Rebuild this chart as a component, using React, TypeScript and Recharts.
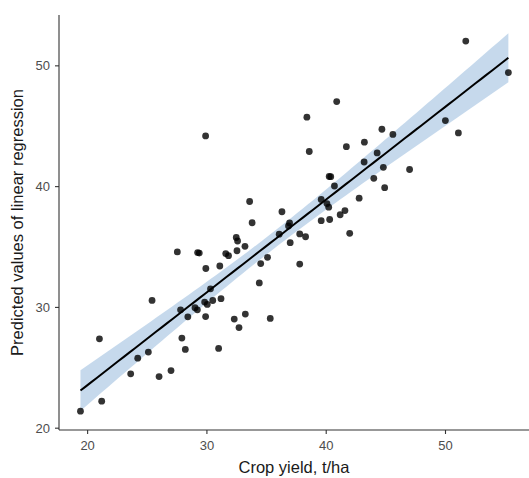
import { ComposedChart, Scatter, Area, Line, XAxis, YAxis, Label } from 'recharts';

// observed crop yield (t/ha) and the model's predicted values, one entry per plot
const cropYield = [
  19.40, 21.18, 20.99, 23.61, 24.20, 25.09, 25.40, 25.99, 26.99, 27.52,
  27.90, 28.19, 27.79, 28.40, 29.00, 29.20, 29.22, 29.36, 29.91, 29.89,
  29.81, 30.03, 30.30, 30.49, 31.18, 30.98, 31.08, 31.58, 31.81, 32.29,
  32.69, 33.22, 32.46, 32.57, 32.52, 33.19, 33.79, 34.51, 34.39, 35.08,
  35.31, 36.06, 33.58, 36.29, 36.93, 36.84, 36.98, 37.78, 38.27, 37.78,
  29.89, 38.38, 38.58, 40.88, 41.69, 43.20, 44.67, 45.59, 43.18, 44.27,
  44.79, 46.99, 43.99, 44.90, 40.25, 40.38, 40.69, 42.76, 39.58, 40.06,
  40.21, 41.57, 41.17, 40.29, 39.58, 41.97, 51.70, 55.27, 49.99, 51.08,
];
const predicted = [
  21.41, 22.24, 27.40, 24.50, 25.80, 26.30, 30.58, 24.27, 24.77, 34.59,
  27.46, 26.52, 29.80, 29.22, 29.97, 29.80, 34.54, 34.50, 33.22, 29.24,
  30.44, 30.25, 31.54, 30.57, 30.72, 26.60, 33.43, 34.46, 34.28, 29.03,
  28.33, 29.45, 35.79, 35.50, 34.69, 35.06, 37.01, 33.63, 32.03, 34.15,
  29.09, 36.06, 38.77, 37.92, 36.99, 36.74, 35.36, 36.08, 35.85, 33.59,
  44.20, 45.75, 42.91, 47.04, 43.31, 43.68, 44.75, 44.32, 42.04, 42.79,
  41.60, 41.42, 40.69, 39.91, 40.84, 40.82, 40.05, 39.04, 38.94, 38.60,
  38.30, 38.02, 37.67, 37.28, 37.18, 36.13, 52.05, 49.44, 45.47, 44.45,
];
const xTicks = [20, 30, 40, 50];
const yTicks = [20, 30, 40, 50];

// least-squares line with a 95% confidence band, evaluated like geom_smooth(method = "lm")
function lmFit(xs: number[], ys: number[], steps = 80) {
  const n = xs.length;
  const mx = xs.reduce((s, v) => s + v, 0) / n;
  const my = ys.reduce((s, v) => s + v, 0) / n;
  let sxx = 0;
  let sxy = 0;
  xs.forEach((x, i) => {
    sxx += (x - mx) ** 2;
    sxy += (x - mx) * (ys[i] - my);
  });
  const b = sxy / sxx;
  const a = my - b * mx;
  let sse = 0;
  xs.forEach((x, i) => {
    sse += (ys[i] - (a + b * x)) ** 2;
  });
  const s = Math.sqrt(sse / (n - 2));
  const t = 1.992;
  const lo = Math.min(...xs);
  const hi = Math.max(...xs);
  return Array.from({ length: steps }, (_, i) => {
    const x = lo + ((hi - lo) * i) / (steps - 1);
    const fit = a + b * x;
    const se = s * Math.sqrt(1 / n + (x - mx) ** 2 / sxx);
    return { x, fit, band: [fit - t * se, fit + t * se] };
  });
}

const points = cropYield.map((x, i) => ({ x, y: predicted[i] }));
const fitRows = lmFit(cropYield, predicted);

const axisStroke = { stroke: '#333', strokeWidth: 1.1 };
const tickStyle = { fill: '#4d4d4d', fontSize: 13 };

const Dot = (props: any) => (
  <circle cx={props.cx} cy={props.cy} r={3.4} fill="#000" fillOpacity={0.8} />
);

export default function App() {
  return (
    <div style={{ position: 'absolute', left: 0, top: 0, fontFamily: '"Liberation Sans", Arial, sans-serif' }}>
      <ComposedChart
        width={529}
        height={478}
        data={fitRows}
        margin={{ top: 15, right: 0, bottom: 0, left: 0 }}
      >
        <XAxis
          dataKey="x"
          type="number"
          domain={[17.6, 57.0]}
          allowDataOverflow
          ticks={xTicks}
          axisLine={axisStroke}
          tickLine={axisStroke}
          tickSize={4}
          tickMargin={7}
          tick={tickStyle}
          height={48}
        >
          <Label value="Crop yield, t/ha" position="insideBottom" offset={5} fill="#1a1a1a" fontSize={16.5} />
        </XAxis>
        <YAxis
          dataKey="y"
          type="number"
          domain={[19.85, 54.21]}
          allowDataOverflow
          ticks={yTicks}
          axisLine={axisStroke}
          tickLine={axisStroke}
          tickSize={4}
          tickMargin={5}
          tick={tickStyle}
          width={59}
        >
          <Label
            content={(p: any) => {
              const vb = p.viewBox || { x: 0, y: 15, width: 59, height: 415 };
              const cx = vb.x + 17;
              const cy = vb.y + vb.height / 2;
              return (
                <text
                  x={cx}
                  y={cy}
                  transform={`rotate(-90, ${cx}, ${cy})`}
                  textAnchor="middle"
                  dominantBaseline="central"
                  fill="#1a1a1a"
                  fontSize={16.5}
                >
                  Predicted values of linear regression
                </text>
              );
            }}
          />
        </YAxis>
        <Scatter data={points} shape={Dot} isAnimationActive={false} />
        <Area
          dataKey="band"
          type="linear"
          stroke="none"
          fill="#70a0cf"
          fillOpacity={0.4}
          isAnimationActive={false}
        />
        <Line dataKey="fit" type="linear" stroke="#000" strokeWidth={2} dot={false} isAnimationActive={false} />
      </ComposedChart>
    </div>
  );
}
